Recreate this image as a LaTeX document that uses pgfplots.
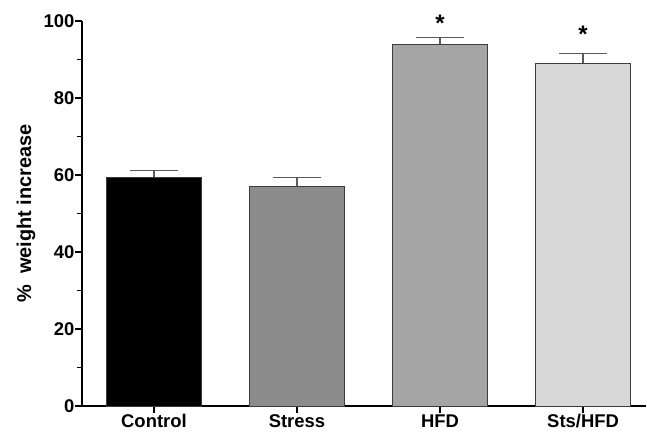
\documentclass[border=0pt]{standalone}
\usepackage{fontspec}
\setmainfont{Liberation Sans}
\usepackage{pgfplots}
\pgfplotsset{compat=1.18}
\definecolor{cStress}{RGB}{140,140,140}
\definecolor{cHFD}{RGB}{165,165,165}
\definecolor{cSts}{RGB}{215,215,215}
\definecolor{edge}{RGB}{60,60,60}
\definecolor{errc}{RGB}{90,90,90}
\begin{document}
\begin{tikzpicture}
\begin{axis}[
  scale only axis,
  width=564bp, height=385bp,
  xmin=-0.503, xmax=3.44,
  ymin=0, ymax=100,
  axis lines=left,
  axis line style={line width=2pt, -},
  xtick={0,1,2,3},
  xticklabels={Control,Stress,HFD,Sts/HFD},
  ytick={0,20,40,60,80,100},
  minor ytick={10,30,50,70,90},
  tick align=outside,
  major tick length=7bp,
  minor tick length=5bp,
  tick style={line width=1.8pt, black},
  /pgf/number format/assume math mode=true,
  ticklabel style={font=\fontsize{18.5}{21}\selectfont\bfseries},
  yticklabel style={xshift=3bp},
  xticklabel style={yshift=2bp},
  ylabel={\%\ \ weight increase},
  ylabel style={font=\fontsize{20}{23}\selectfont\bfseries, at={(rel axis cs:0,0.5)}, anchor=center, yshift=56bp},
  clip=false,
  bar width=0.664,
  every axis plot/.append style={ybar, bar shift=0pt, draw=edge, line width=0.8pt,
    error bars/y dir=plus, error bars/y explicit,
    error bars/error bar style={errc, line width=1.5pt},
    error bars/error mark options={rotate=90, mark size=24bp, errc, line width=1.5pt}},
]
\addplot[fill=black] coordinates {(0,59.5) +- (0,1.7)};
\addplot[fill=cStress] coordinates {(1,57.1) +- (0,2.3)};
\addplot[fill=cHFD] coordinates {(2,94.0) +- (0,1.7)};
\addplot[fill=cSts] coordinates {(3,89.0) +- (0,2.6)};
\node[font=\fontsize{24}{24}\selectfont\bfseries] at (axis cs:2,99.4) {*};
\node[font=\fontsize{24}{24}\selectfont\bfseries] at (axis cs:3,96.5) {*};
\coordinate (sw) at (rel axis cs:0,0);
\coordinate (ne) at (rel axis cs:1,1);
\end{axis}
\pgfresetboundingbox
\path[use as bounding box] ([xshift=-82bp,yshift=-27bp]sw) rectangle ([xshift=1bp,yshift=21bp]ne);
\end{tikzpicture}
\end{document}
